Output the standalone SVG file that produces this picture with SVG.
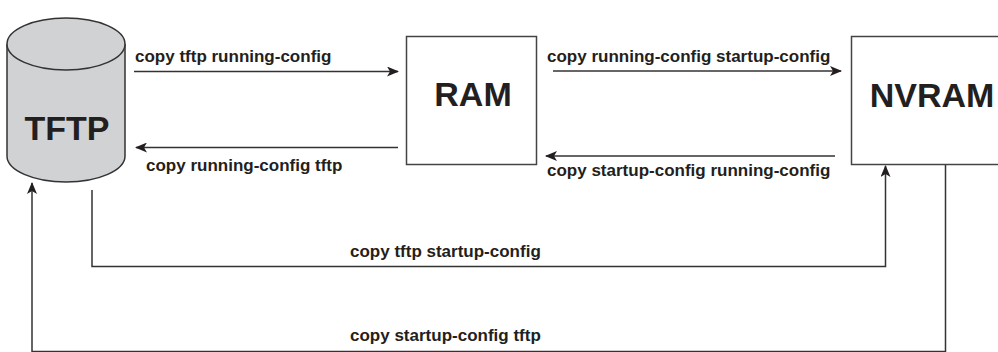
<svg xmlns="http://www.w3.org/2000/svg" width="998" height="352" viewBox="0 0 998 352">
<style>
  .lbl { font-family: "Liberation Sans", Arial, sans-serif; font-weight: bold; font-size: 17px; fill: #231f20; }
  .big { font-family: "Liberation Sans", Arial, sans-serif; font-weight: bold; font-size: 34px; fill: #231f20; text-anchor: middle; }
  .box { fill: #ffffff; stroke: #444444; stroke-width: 1.5; }
  .conn { fill: none; stroke: #333333; stroke-width: 1.5; }
</style>
<defs>
  <marker id="arr" viewBox="0 0 12 10" refX="11" refY="5" markerWidth="12" markerHeight="10" markerUnits="userSpaceOnUse" orient="auto">
    <path d="M0,0 L12,5 L0,10 L3,5 Z" fill="#231f20"/>
  </marker>
</defs>
<rect width="998" height="352" fill="#ffffff"/>
<g id="tftp">
  <path d="M7,44 L7,156 A59,26 0 0 0 125,156 L125,44" fill="#d1d2d4" stroke="#333333" stroke-width="1.5"/>
  <ellipse cx="66" cy="44" rx="59" ry="26" fill="#d1d2d4" stroke="#333333" stroke-width="1.5"/>
  <text class="big" x="67" y="140">TFTP</text>
</g>
<g id="ram">
  <rect class="box" x="406.5" y="36.5" width="130" height="128"/>
  <text class="big" x="473" y="106">RAM</text>
</g>
<g id="nvram">
  <rect class="box" x="851.5" y="36.5" width="200" height="128"/>
  <text class="big" x="932" y="107">NVRAM</text>
</g>
<g id="connectors">
  <path class="conn" d="M134,71.5 L398,71.5" marker-end="url(#arr)"/>
  <path class="conn" d="M398,147.5 L136,147.5" marker-end="url(#arr)"/>
  <path class="conn" d="M553,71 L841,71" marker-end="url(#arr)"/>
  <path class="conn" d="M835,156 L546,156" marker-end="url(#arr)"/>
  <path class="conn" d="M92,190 L92,266.5 L885.5,266.5 L885.5,166" marker-end="url(#arr)"/>
  <path class="conn" d="M945.5,165 L945.5,351.5 L32,351.5 L32,183" marker-end="url(#arr)"/>
</g>
<g id="labels">
  <text class="lbl" x="135" y="62">copy tftp running-config</text>
  <text class="lbl" x="146" y="171">copy running-config tftp</text>
  <text class="lbl" x="547" y="62">copy running-config startup-config</text>
  <text class="lbl" x="547" y="176">copy startup-config running-config</text>
  <text class="lbl" x="350" y="257">copy tftp startup-config</text>
  <text class="lbl" x="350" y="341">copy startup-config tftp</text>
</g>
</svg>
